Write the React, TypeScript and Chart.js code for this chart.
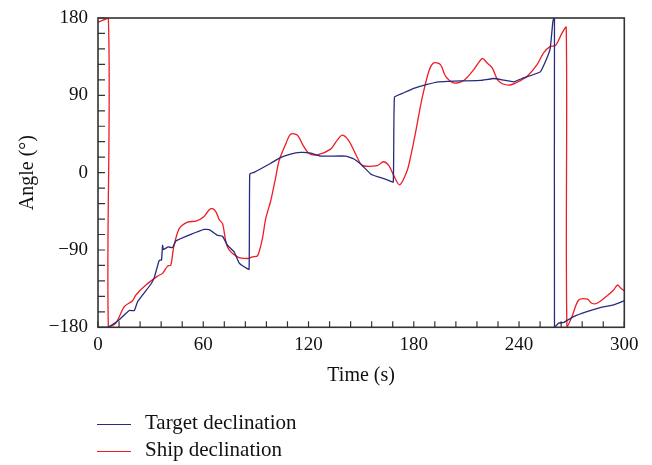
import React, { useEffect, useRef } from 'react';
import { Chart, registerables } from 'chart.js';

Chart.register(...registerables);

const targetTime = [0, 4.6, 7.4, 12.1, 17.8, 20.7, 22.6, 30.2, 32.1, 34.9, 36.2, 36.8, 37.3, 40.0, 42.5, 44.4, 52.9, 60.5, 63.4, 68.1, 71, 73.8, 77.6, 80.4, 83.3, 86.1, 86.5, 89, 98.5, 104.2, 109.8, 115.5, 121.2, 126.9, 141.1, 145.9, 149.7, 155.4, 159.2, 164.9, 168.3, 169.0, 174.3, 180, 187.6, 194.3, 202.8, 218, 225.6, 231.2, 236.9, 242.6, 252.1, 255.9, 257.8, 259.3, 260.2, 260.2, 262.6, 265.4, 271.1, 278.7, 286.3, 293.9, 300];
const targetAngle = [-180, -180, -177.9, -171.3, -160.5, -160.5, -150.1, -129.6, -121.9, -101.9, -101.9, -84.5, -89.5, -86.5, -87.2, -79.5, -71.8, -66, -66.3, -72.9, -74.1, -84.5, -92.2, -105, -109.6, -112.6, -1.5, 0.4, 11, 17.7, 21.7, 23.5, 22.8, 19.3, 19.3, 15.9, 10.1, -1.5, -4.6, -8.4, -11, 88, 93, 98, 102.7, 105.7, 106.5, 107.3, 109.6, 107.7, 105.7, 110.3, 117.3, 133.5, 145, 176, 182, -180, -175.1, -174.4, -167.5, -161.7, -157, -153.9, -149];

const shipTime = [0, 5.9, 5.9, 10.2, 15, 19.7, 21.6, 27.3, 34, 36.8, 39.7, 41.5, 43.1, 46.3, 51, 55.8, 60.5, 63.4, 65.3, 67.3, 69.1, 71, 73.8, 79.5, 85.2, 88, 90.9, 93.7, 95.6, 98.5, 101.3, 103.2, 107, 109.8, 113.7, 116.5, 120.3, 125, 132.6, 136.4, 139.3, 143, 147.8, 150.7, 159.2, 162.6, 165.8, 168.6, 172, 176.2, 178.1, 181, 184.8, 188.6, 191.4, 195.2, 198.1, 202.8, 208.5, 214.2, 219, 221.8, 224.7, 228.4, 234.1, 238.9, 244.6, 250.3, 254, 257.8, 260.7, 264.5, 266.9, 267.3, 270.2, 274, 279, 281.5, 284.4, 290.1, 293.9, 296.1, 298.1, 300];
const shipAngle = [175, 180, -180, -175.1, -155.9, -149, -142.4, -130.8, -120.4, -117.2, -108.8, -107.6, -87.2, -65.2, -57.5, -56.4, -50.9, -43.2, -42, -45.9, -54.7, -59.4, -86.5, -98, -99.9, -98, -96.9, -76.7, -53.6, -32.4, -5.4, 13.9, 33.2, 44.8, 43.6, 33.2, 22.3, 20.8, 27.4, 37.9, 43.6, 37, 17.7, 8.5, 8.1, 12.7, 8.1, -3.5, -14.2, 2.3, 17.7, 46.7, 87.2, 118.1, 127.7, 125.8, 112.3, 104.5, 107.3, 120, 132.8, 127.7, 121.9, 106.5, 101.9, 105.3, 112.3, 125.8, 139.3, 147, 147.8, 162.4, 169, -180, -167.5, -148.2, -147.3, -152, -152, -143.5, -136.6, -130.8, -134.6, -137.4];

const seriesNames = ['Target declination', 'Ship declination'];
const seriesColors = ['#262b7c', '#ee1d24'];

const xMin = 0;
const xMax = 300;
const xStep = 12;
const xLabelEvery = 60;
const yMin = -180;
const yMax = 180;
const yStep = 18;
const yLabelEvery = 90;
const xTitle = 'Time (s)';
const yTitle = 'Angle (\u00b0)';

const FONT = "'Liberation Serif', 'Times New Roman', serif";

const frameAndTicks = {
  id: 'frameAndTicks',
  afterDatasetsDraw(chart: any) {
    const { ctx, chartArea: a, scales } = chart;
    ctx.save();
    ctx.strokeStyle = '#333333';
    ctx.lineWidth = 1.2;
    ctx.beginPath();
    scales.x.ticks.forEach((t: any) => {
      const px = scales.x.getPixelForValue(t.value);
      ctx.moveTo(px, a.bottom);
      ctx.lineTo(px, a.bottom - 6);
    });
    scales.y.ticks.forEach((t: any) => {
      const py = scales.y.getPixelForValue(t.value);
      ctx.moveTo(a.left, py);
      ctx.lineTo(a.left + 7, py);
    });
    ctx.stroke();
    ctx.lineWidth = 1.6;
    ctx.strokeRect(a.left, a.top, a.right - a.left, a.bottom - a.top);
    ctx.restore();
  },
};

const fmt = (v: number) => (v < 0 ? '\u2212' + Math.abs(v) : String(v));

export default function App() {
  const ref = useRef<HTMLCanvasElement | null>(null);
  useEffect(() => {
    if (!ref.current) return;
    const chart = new Chart(ref.current, {
      type: 'line',
      data: {
        datasets: [
          {
            label: seriesNames[0],
            data: targetTime.map((t, i) => ({ x: t, y: targetAngle[i] })),
            borderColor: seriesColors[0],
            borderWidth: 1.3,
            pointRadius: 0,
            tension: 0.1,
            fill: false,
          },
          {
            label: seriesNames[1],
            data: shipTime.map((t, i) => ({ x: t, y: shipAngle[i] })),
            borderColor: seriesColors[1],
            borderWidth: 1.3,
            pointRadius: 0,
            tension: 0.3,
            fill: false,
          },
        ],
      },
      options: {
        responsive: false,
        animation: false,
        layout: { padding: { left: 0, right: 27.7, top: 18, bottom: 77.7 } },
        plugins: { legend: { display: false }, tooltip: { enabled: false } },
        scales: {
          x: {
            type: 'linear',
            min: xMin,
            max: xMax,
            grid: { display: false },
            border: { display: false },
            afterFit: (s: any) => { s.height = 60; },
            ticks: {
              stepSize: xStep,
              autoSkip: false,
              maxRotation: 0,
              padding: -2,
              color: '#111',
              font: { family: FONT, size: 19 },
              callback: (v: any) => (Number(v) % xLabelEvery === 0 ? fmt(Number(v)) : ''),
            },
            title: { display: true, text: xTitle, color: '#111', font: { family: FONT, size: 20 }, padding: { top: 0, bottom: 0 } },
          },
          y: {
            type: 'linear',
            min: yMin,
            max: yMax,
            grid: { display: false },
            border: { display: false },
            afterFit: (s: any) => { s.width = 98; },
            ticks: {
              stepSize: yStep,
              autoSkip: false,
              padding: 2,
              color: '#111',
              font: { family: FONT, size: 19 },
              callback: (v: any) => (Number(v) % yLabelEvery === 0 ? fmt(Number(v)) : ''),
            },
            title: { display: true, text: yTitle, color: '#111', font: { family: FONT, size: 20 }, padding: { top: 16, bottom: 0 } },
          },
        },
      },
      plugins: [frameAndTicks],
    });
    return () => chart.destroy();
  }, []);

  const legendRows = [0, 1];
  return (
    <div style={{ position: 'absolute', left: 0, top: 0, width: 652, height: 465, background: '#fff' }}>
      <canvas ref={ref} width={652} height={465} style={{ display: 'block' }} />
      {legendRows.map((i) => (
        <div key={i}>
          <div
            style={{
              position: 'absolute',
              left: 97,
              top: 423.5 + i * 27.5,
              width: 34,
              height: 1.3,
              background: seriesColors[i],
            }}
          />
          <div
            style={{
              position: 'absolute',
              left: 145,
              top: 411.5 + i * 27.5,
              fontFamily: FONT,
              fontSize: 21,
              lineHeight: '21px',
              color: '#111',
              whiteSpace: 'nowrap',
            }}
          >
            {seriesNames[i]}
          </div>
        </div>
      ))}
    </div>
  );
}
